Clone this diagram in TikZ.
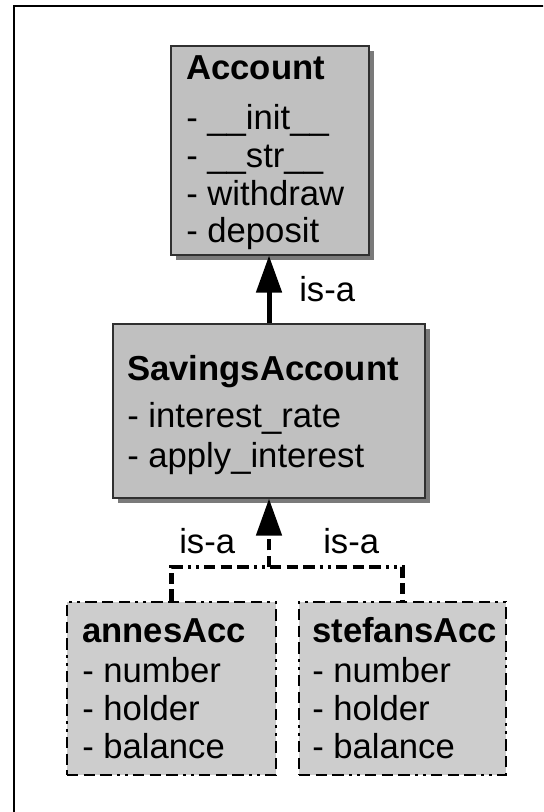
\documentclass[tikz,border=0pt]{standalone}
\usepackage{fontspec}
\setmainfont{Liberation Sans}
\usetikzlibrary{arrows.meta,shadows}
\newdimen\pxu \pxu=0.75pt
\definecolor{clsfill}{HTML}{C0C0C0}
\definecolor{objfill}{HTML}{CDCDCD}
\definecolor{shadowgray}{HTML}{7A7A7A}
\definecolor{edgegray}{HTML}{303030}
\tikzset{
  clsbox/.style={draw=edgegray, line width=1.2\pxu, fill=clsfill, inner sep=0pt,
    general shadow={fill=shadowgray, shadow xshift=5\pxu, shadow yshift=-5\pxu}},
  objbox/.style={draw=black, line width=2.2pt, fill=objfill, inner sep=0pt, dashdotdot},
  % three dashes followed by two dots
  dashdotdot/.style={dash pattern=on 8.5pt off 4pt on 8.5pt off 4pt on 8.5pt off 4pt on 2pt off 4pt on 2pt off 4pt},
  lbl/.style={anchor=base west, inner sep=0pt, font=\fontsize{26}{28}\selectfont},
  ttl/.style={lbl, font=\fontsize{26}{28}\selectfont\bfseries},
  isa/.style={line width=3.75pt, -{Triangle[width=18.75pt, length=27.75pt]}},
  isadash/.style={line width=3.6pt, dashdotdot, -{Triangle[width=18.75pt, length=27.75pt]}},
  conn/.style={line width=3.4pt, dashdotdot},
}
\begin{document}
\begin{tikzpicture}[x=0.75pt, y=-0.75pt]
  \useasboundingbox (0,0) rectangle (543,812);
  \clip (0,0) rectangle (543,812);
  % outer frame (runs past the right and bottom edges)
  \draw[line width=2.5\pxu] (14,6) rectangle (600,860);

  % class Account
  \node[clsbox, minimum width=198\pxu, minimum height=209\pxu] (account) at (270,150.5) {};
  \node[ttl] (accT) at (186,80) {Account};
  \node[lbl] (acc1) at (186,130) {- \_\_init\_\_};
  \node[lbl] (acc2) at (186,168) {- \_\_str\_\_};
  \node[lbl] (acc3) at (186,206) {- withdraw};
  \node[lbl] (acc4) at (186,243) {- deposit};

  % class SavingsAccount
  \node[clsbox, minimum width=312\pxu, minimum height=174\pxu] (savings) at (269,411) {};
  \node[ttl] (savT) at (127,380) {SavingsAccount};
  \node[lbl] (sav1) at (127,427) {- interest\_rate};
  \node[lbl] (sav2) at (127,467) {- apply\_interest};

  % objects
  \node[objbox, minimum width=209\pxu, minimum height=173\pxu] (annes) at (171.5,688.5) {};
  \node[ttl] (annT) at (82,642) {annesAcc};
  \node[lbl] (ann1) at (82,682) {- number};
  \node[lbl] (ann2) at (82,720) {- holder};
  \node[lbl] (ann3) at (82,758) {- balance};

  \node[objbox, minimum width=207\pxu, minimum height=173\pxu] (stefans) at (402.5,688.5) {};
  \node[ttl] (stfT) at (312,642) {stefansAcc};
  \node[lbl] (stf1) at (312,682) {- number};
  \node[lbl] (stf2) at (312,720) {- holder};
  \node[lbl] (stf3) at (312,758) {- balance};

  % inheritance: SavingsAccount is-a Account
  \draw[isa] (savings.north) -- (savings.north |- account.south);
  \node[lbl] (isaTop) at (299,302) {is-a};

  % instances: annesAcc / stefansAcc is-a SavingsAccount
  \coordinate (junc) at (269,567);
  \draw[conn] (annes.north) -- (annes.north |- junc) -- (stefans.north |- junc) -- (stefans.north);
  \draw[isadash] (junc) -- (savings.south);
  \node[lbl] (isaL) at (179,553) {is-a};
  \node[lbl] (isaR) at (323,553) {is-a};
\end{tikzpicture}
\end{document}
